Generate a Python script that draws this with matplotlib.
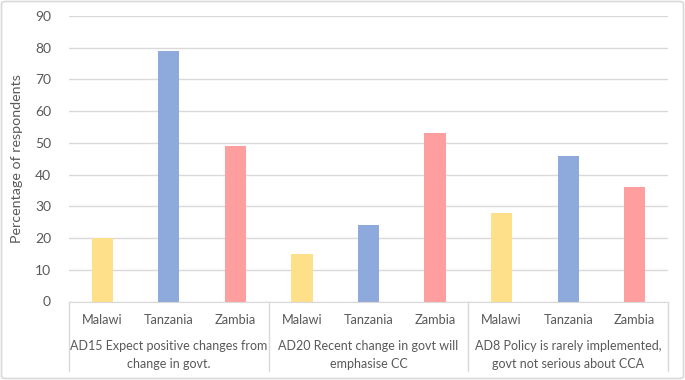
import matplotlib
matplotlib.use("Agg")
import matplotlib.pyplot as plt
import numpy as np
from matplotlib.patches import FancyBboxPatch
from matplotlib.transforms import blended_transform_factory

countries = ["Malawi", "Tanzania", "Zambia"]
groups = ["AD15 Expect positive changes from\nchange in govt.",
          "AD20 Recent change in govt will\nemphasise CC",
          "AD8 Policy is rarely implemented,\ngovt not serious about CCA"]
values = [[20, 79, 49],
          [15, 24, 53],
          [28, 46, 36]]
colors = ["#FFE08A", "#8EA9DB", "#FF9E9E"]
yticks = [0, 10, 20, 30, 40, 50, 60, 70, 80, 90]
ylabel = "Percentage of respondents"

plt.rcParams['font.family'] = ['Lato', 'DejaVu Sans']
txt = "#595959"
grid = "#D9D9D9"

fig = plt.figure(figsize=(6.85, 3.8), dpi=100)
ax = fig.add_axes([69/685, (380-301.5)/380, (668-69)/685, (301.5-16)/380])

n = len(countries)
for gi, vals in enumerate(values):
    for ci, v in enumerate(vals):
        ax.bar(gi*n + ci, v, width=0.32, color=colors[ci], zorder=3)

ax.set_xlim(-0.5, len(groups)*n - 0.5)
ax.set_ylim(0, 90)
ax.set_yticks(yticks)
ax.set_yticklabels([str(t) for t in yticks], color=txt, fontsize=10)
ax.tick_params(axis='y', length=0, pad=13)
ax.yaxis.grid(True, color=grid, linewidth=1, zorder=0)
ax.set_axisbelow(True)
for s in ["left", "right", "top"]:
    ax.spines[s].set_visible(False)
ax.spines["bottom"].set_color(grid)
ax.spines["bottom"].set_zorder(4)
ax.set_xticks([])
ax.set_ylabel(ylabel, color=txt, fontsize=10.3)
ax.yaxis.set_label_coords(-(69-23)/599, 0.5)

tr = blended_transform_factory(ax.transData, ax.transAxes)
h = 285.5
for gi, g in enumerate(groups):
    for ci, c in enumerate(countries):
        ax.text(gi*n + ci, -(320-301.5)/h, c, transform=tr, ha='center', va='center',
                color=txt, fontsize=9.2)
    lines = g.split("\n")
    ax.text(gi*n + 1, -(346.5-301.5)/h, lines[0], transform=tr, ha='center', va='center',
            color=txt, fontsize=9.0)
    ax.text(gi*n + 1, -(364-301.5)/h, lines[1], transform=tr, ha='center', va='center',
            color=txt, fontsize=9.0)
for k in range(len(groups)+1):
    x = k*n - 0.5
    ax.plot([x, x], [0, -(371-301.5)/h], transform=tr, color=grid, lw=1, clip_on=False)

fig.patches.append(FancyBboxPatch((1.5/685, 1.5/380), 682/685, 377/380,
                                  boxstyle="round,pad=0,rounding_size=0.006",
                                  transform=fig.transFigure, fill=False,
                                  edgecolor="#D9D9D9", linewidth=1.2))

fig.savefig("out.png", dpi=100)
